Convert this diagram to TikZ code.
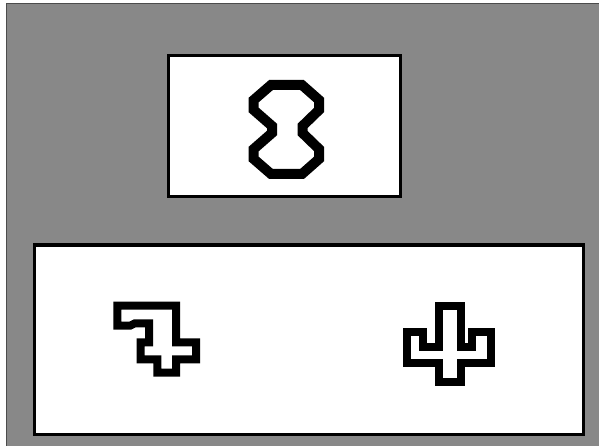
\documentclass[tikz,border=0pt]{standalone}
\begin{document}
\begin{tikzpicture}[x=1pt,y=-1pt,
  panel/.style={draw=black,fill=white,line width=3pt},
  glyph/.style={draw=black,line join=miter,miter limit=10},
  thick8/.style={glyph,line width=10pt},
  thinglyph/.style={glyph,line width=8pt}]
\definecolor{bggray}{RGB}{136,136,136}
\useasboundingbox (0,0) rectangle (599,446);
\fill[white] (0,0) rectangle (599,446);
\fill[bggray] (6,3) rectangle (599,446);
\draw[black!70,line width=1.2pt] (6.6,446) -- (6.6,3.6) -- (599,3.6);
% top panel
\draw[panel] (168.5,56) rectangle (400,197);
% bottom panel
\draw[panel] (34.5,245) rectangle (583.5,434.5);
% figure-eight glyph
\draw[thick8] (271,85) -- (302,85) -- (319,100) -- (319,110) -- (302.5,126)
  -- (302.5,133) -- (319,149) -- (319,159) -- (302,174) -- (271,174)
  -- (253.7,159) -- (253.7,149) -- (272,133) -- (272,126) -- (253.7,110)
  -- (253.7,100) -- cycle;
% hook-and-cross glyph
\draw[thinglyph] (117.3,305.7) -- (176,305.7) -- (176,342.3) -- (196,342.3)
  -- (196,359.3) -- (176,359.3) -- (176,372.7) -- (157.3,372.7) -- (157.3,359.3)
  -- (140.7,359.3) -- (140.7,342.3) -- (149,342.3) -- (149,323.3) -- (135,323.3)
  -- (130,325.7) -- (117.3,325.7) -- cycle;
% cactus glyph
\draw[thinglyph] (439,305.7) -- (460.7,305.7) -- (460.7,347.3) -- (472.3,347.3)
  -- (472.3,331.5) -- (491,331.5) -- (491,362.7) -- (460.7,362.7) -- (460.7,382)
  -- (439,382) -- (439,362.7) -- (406.7,362.7) -- (406.7,331.5) -- (422.7,331.5)
  -- (422.7,347.3) -- (439,347.3) -- cycle;
\end{tikzpicture}
\end{document}
